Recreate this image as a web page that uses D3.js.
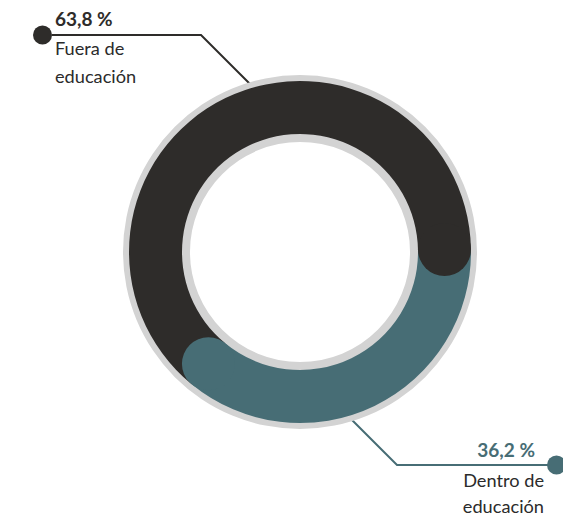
<!DOCTYPE html>
<html><head><meta charset="utf-8">
<script src="https://cdn.jsdelivr.net/npm/d3@7"></script>
<style>html,body{margin:0;padding:0;background:#fff;}</style>
</head><body>
<svg id="c" width="563" height="518"></svg>
<script>
const categories = ["Dentro de educación", "Fuera de educación"];
const values = [36.2, 63.8];
const valueLabels = ["36,2 %", "63,8 %"];
const colors = ["#476d75", "#2e2c2a"];

const svg = d3.select("#c");
const cx = 300, cy = 252;
const g = svg.append("g").attr("transform", `translate(${cx},${cy})`);

const rIn = 118, rOut = 171;
const startA = 89 * Math.PI / 180;

// background ring
g.append("path")
  .attr("d", d3.arc().innerRadius(110).outerRadius(177).startAngle(0).endAngle(2 * Math.PI)())
  .attr("fill", "#d3d3d3");

const pie = d3.pie().sort(null).value(d => d).startAngle(startA).endAngle(startA + 2 * Math.PI);
const arcs = pie(values);
const arc = d3.arc().innerRadius(rIn).outerRadius(rOut);

g.selectAll("path.seg").data(arcs).enter().append("path")
  .attr("class", "seg")
  .attr("d", arc)
  .attr("fill", (d, i) => colors[i]);

const rMid = (rIn + rOut) / 2, capR = (rOut - rIn) / 2;
g.selectAll("circle.cap").data(arcs).enter().append("circle")
  .attr("class", "cap")
  .attr("cx", d => rMid * Math.sin(d.endAngle))
  .attr("cy", d => -rMid * Math.cos(d.endAngle))
  .attr("r", capR)
  .attr("fill", (d, i) => colors[i]);

// leader lines & labels
const font = "Lato, 'Open Sans', sans-serif";
const catSize = 18.2;

// Fuera de educación (top-left)
svg.insert("polyline", "g")
  .attr("points", "253,87 201,35 52,35")
  .attr("fill", "none").attr("stroke", colors[1]).attr("stroke-width", 2);
svg.append("circle").attr("cx", 42.5).attr("cy", 35).attr("r", 9.5).attr("fill", colors[1]);
svg.append("text").attr("x", 55).attr("y", 26).attr("font-family", font).attr("font-weight", 700)
  .attr("font-size", 19).attr("fill", colors[1]).text(valueLabels[1]);
const w1 = categories[1].split(" ");
svg.append("text").attr("x", 55).attr("y", 55).attr("font-family", font)
  .attr("font-size", catSize).attr("fill", "#2b2b2b").text(w1.slice(0, 2).join(" "));
svg.append("text").attr("x", 55).attr("y", 83).attr("font-family", font)
  .attr("font-size", catSize).attr("fill", "#2b2b2b").text(w1.slice(2).join(" "));

// Dentro de educación (bottom-right)
svg.insert("polyline", "g")
  .attr("points", "347,415 397,465 550,465")
  .attr("fill", "none").attr("stroke", colors[0]).attr("stroke-width", 2);
svg.append("circle").attr("cx", 556.5).attr("cy", 465).attr("r", 9.5).attr("fill", colors[0]);
svg.append("text").attr("x", 535).attr("y", 457).attr("text-anchor", "end").attr("font-family", font)
  .attr("font-weight", 700).attr("font-size", 19).attr("fill", colors[0]).text(valueLabels[0]);
const w0 = categories[0].split(" ");
svg.append("text").attr("x", 544).attr("y", 487).attr("text-anchor", "end").attr("font-family", font)
  .attr("font-size", catSize).attr("fill", "#2b2b2b").text(w0.slice(0, 2).join(" "));
svg.append("text").attr("x", 544).attr("y", 513).attr("text-anchor", "end").attr("font-family", font)
  .attr("font-size", catSize).attr("fill", "#2b2b2b").text(w0.slice(2).join(" "));
</script>
</body></html>
